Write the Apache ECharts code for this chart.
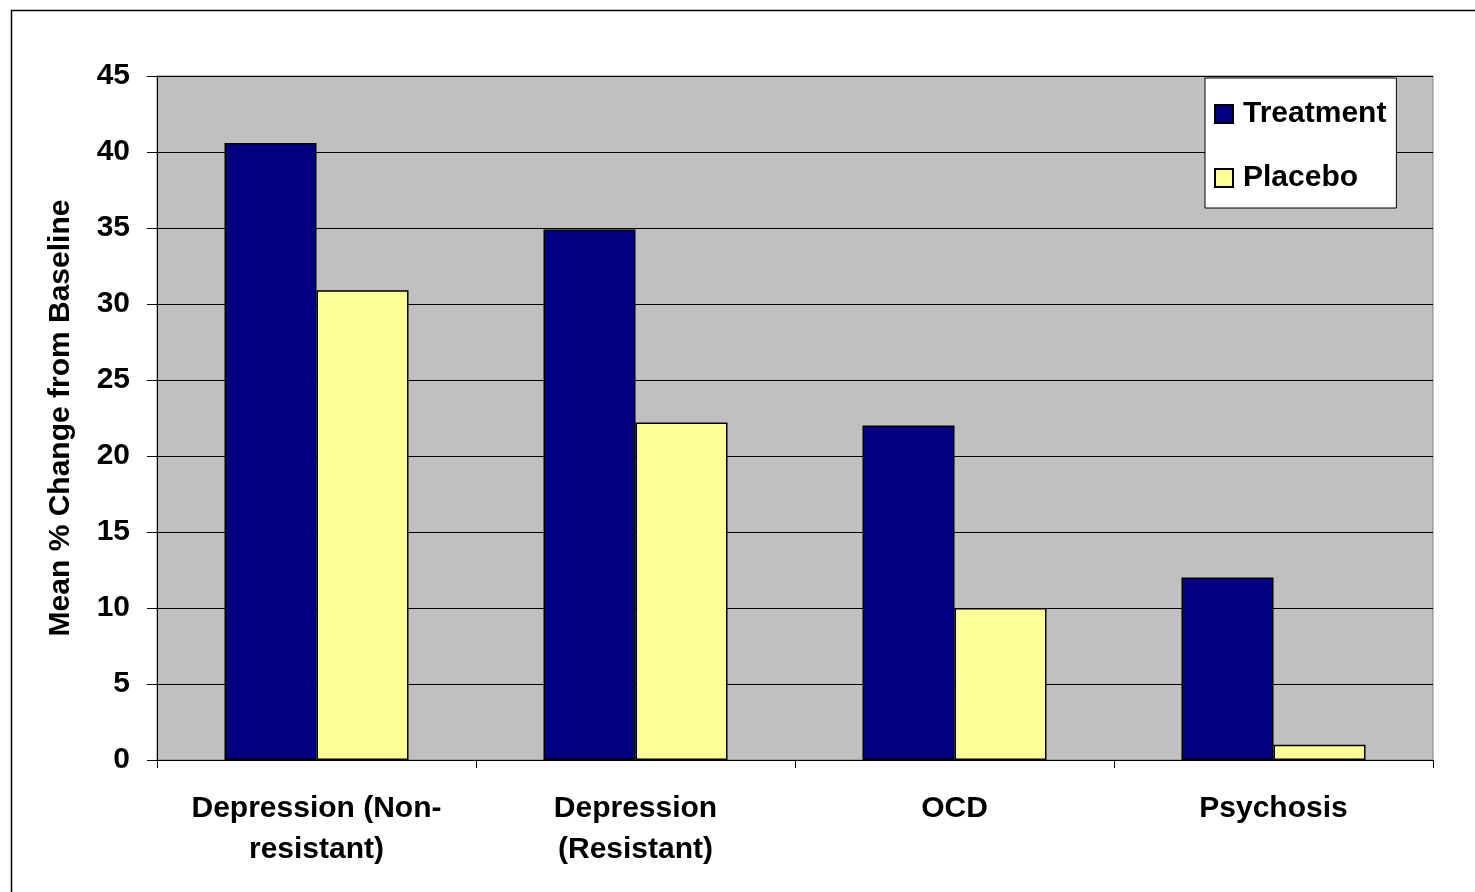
<!DOCTYPE html>
<html>
<head>
<meta charset="utf-8">
<script src="https://cdn.jsdelivr.net/npm/echarts@6/dist/echarts.min.js"></script>
<style>
html,body{margin:0;padding:0;background:#fff;}
#chart{width:1475px;height:892px;}
</style>
</head>
<body>
<div id="chart"></div>
<script>
const categories = ['Depression (Non-\nresistant)', 'Depression\n(Resistant)', 'OCD', 'Psychosis'];
const treatment = [40.6, 34.9, 22.0, 12.0];
const placebo = [30.9, 22.2, 10.0, 1.0];
const yAxisName = 'Mean % Change from Baseline';

const font = 'Arial, "Liberation Sans", sans-serif';
const fs = 30;
const chart = echarts.init(document.getElementById('chart'));
chart.setOption({
  animation: false,
  backgroundColor: '#fff',
  graphic: [{
    type: 'rect', left: 9, top: 8, silent: true,
    shape: {x: 0, y: 0, width: 1500, height: 1000},
    style: {fill: 'none', stroke: '#000', lineWidth: 1.5}
  }],
  grid: {
    left: 157, top: 76, width: 1276, height: 684,
    show: true, backgroundColor: '#C0C0C0', borderColor: '#808080', borderWidth: 1
  },
  legend: {
    orient: 'vertical', left: 1205, top: 78,
    backgroundColor: '#fff', borderColor: '#000', borderWidth: 1,
    padding: [21, 10, 15, 9],
    itemWidth: 18, itemHeight: 18, itemGap: 34,
    icon: 'rect',
    textStyle: {fontFamily: font, fontWeight: 'bold', fontSize: fs, color: '#000', lineHeight: 30, padding: [0, 0, 0, 5]},
    data: ['Treatment', 'Placebo']
  },
  xAxis: {
    type: 'category', data: categories,
    axisLine: {lineStyle: {color: '#000', width: 1}},
    axisTick: {show: true, length: 8, lineStyle: {color: '#000'}},
    axisLabel: {fontFamily: font, fontWeight: 'bold', fontSize: fs, color: '#000', lineHeight: 41, margin: 28, interval: 0}
  },
  yAxis: {
    type: 'value', min: 0, max: 45, interval: 5,
    name: yAxisName, nameLocation: 'middle', nameGap: 81,
    nameTextStyle: {fontFamily: font, fontWeight: 'bold', fontSize: fs, color: '#000'},
    axisLine: {show: true, lineStyle: {color: '#000', width: 1}},
    axisTick: {show: true, length: 10, lineStyle: {color: '#000'}},
    axisLabel: {fontFamily: font, fontWeight: 'bold', fontSize: fs, color: '#000', margin: 27, padding: [4, 0, 0, 0]},
    splitLine: {show: true, lineStyle: {color: '#000', width: 1}}
  },
  series: [
    {name: 'Treatment', type: 'bar', data: treatment, barWidth: 92, barGap: '0%',
     itemStyle: {color: '#000080', borderColor: '#000', borderWidth: 1.5}},
    {name: 'Placebo', type: 'bar', data: placebo, barWidth: 92, barGap: '0%',
     itemStyle: {color: '#FFFF99', borderColor: '#000', borderWidth: 1.5}}
  ]
});
</script>
</body>
</html>
